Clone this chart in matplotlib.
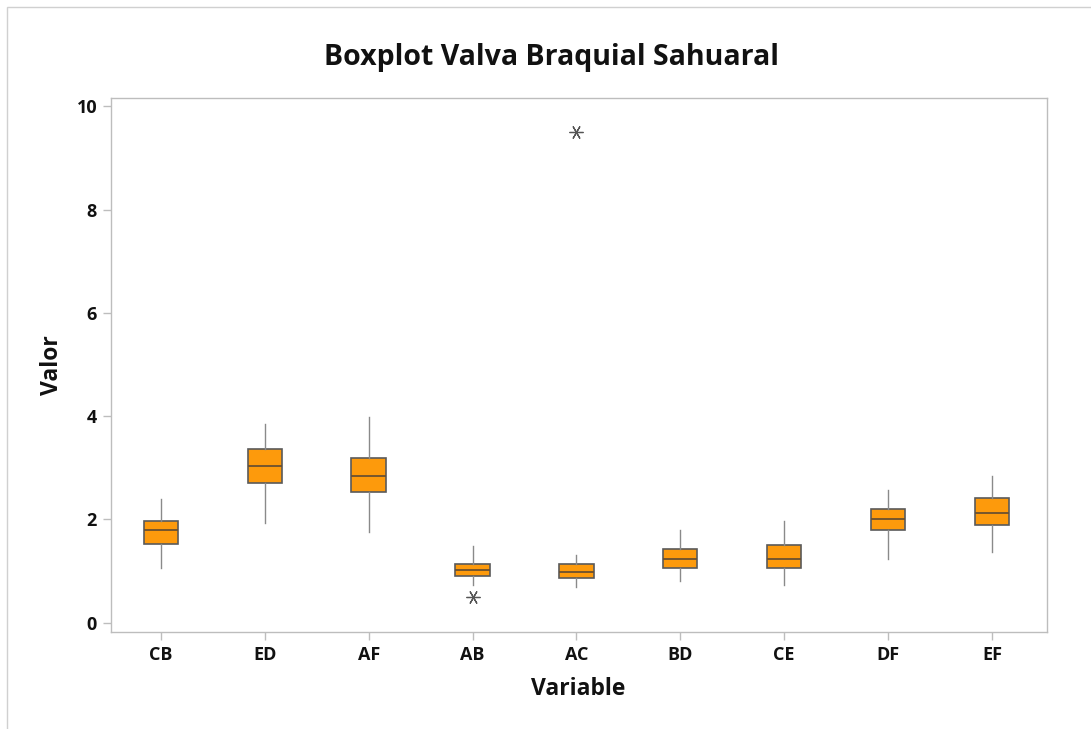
import matplotlib
matplotlib.use("Agg")
import matplotlib.pyplot as plt
from matplotlib.patches import Rectangle

categories = ["CB", "ED", "AF", "AB", "AC", "BD", "CE", "DF", "EF"]
whisker_low = [1.06, 1.94, 1.76, 0.73, 0.69, 0.80, 0.73, 1.24, 1.36]
q1 = [1.53, 2.71, 2.53, 0.91, 0.87, 1.06, 1.06, 1.79, 1.90]
median = [1.79, 3.04, 2.85, 1.02, 0.98, 1.24, 1.24, 2.01, 2.12]
q3 = [1.97, 3.37, 3.19, 1.13, 1.13, 1.42, 1.50, 2.20, 2.42]
whisker_high = [2.39, 3.85, 3.99, 1.49, 1.31, 1.79, 1.97, 2.57, 2.85]
outliers = [[], [], [], [0.50], [9.50], [], [], [], []]
yticks = [0, 2, 4, 6, 8, 10]

plt.rcParams['font.family'] = ['Open Sans', 'DejaVu Sans']

fig = plt.figure(figsize=(10.91, 7.29), dpi=100)
W, H = 1091, 729
ax = fig.add_axes([111 / W, 1 - 632 / H, (1047 - 111) / W, (632 - 98) / H])

stats = []
for i, c in enumerate(categories):
    stats.append(dict(label=c, whislo=whisker_low[i], q1=q1[i], med=median[i],
                      q3=q3[i], whishi=whisker_high[i], fliers=outliers[i]))

positions = list(range(1, len(categories) + 1))
ax.bxp(stats, positions=positions, widths=0.33, patch_artist=True, showcaps=False,
       boxprops=dict(facecolor="#FD9A0C", edgecolor="#5a5a5a", linewidth=1.2),
       medianprops=dict(color="#6a5030", linewidth=1.3),
       whiskerprops=dict(color="#8a8a8a", linewidth=1.0),
       flierprops=dict(marker=(6, 2, 90), markersize=10, markeredgecolor="#555555",
                       markerfacecolor="none", markeredgewidth=0.9, linestyle="none"))

ax.set_xlim(0.52, 9.53)
ax.set_ylim(-0.18, 10.16)
ax.set_yticks(yticks)
ax.set_xticks(positions)
ax.set_xticklabels(categories)

for s in ax.spines.values():
    s.set_color("#bdbdbd")
    s.set_linewidth(1.0)
ax.tick_params(axis="both", direction="out", length=6, color="#bdbdbd", width=1.0,
               labelsize=13, labelcolor="#111111", pad=4)
for lab in ax.get_xticklabels() + ax.get_yticklabels():
    lab.set_fontweight("bold")

fig.text(552 / W, 1 - 58 / H, "Boxplot Valva Braquial Sahuaral", ha="center", va="center",
         fontsize=20.5, fontweight="bold", color="#111111")
fig.text(578 / W, 1 - 689 / H, "Variable", ha="center", va="center",
         fontsize=16.5, fontweight="bold", color="#111111")
fig.text(52 / W, 1 - 365 / H, "Valor", ha="center", va="center", rotation=90,
         fontsize=16.5, fontweight="bold", color="#111111")

fig.patches.append(Rectangle((7 / W, -0.1), 1.2, 1 - 7 / H + 0.1, transform=fig.transFigure,
                             fill=False, edgecolor="#d0d0d0", linewidth=1.0))

fig.savefig("out.png", dpi=100)
